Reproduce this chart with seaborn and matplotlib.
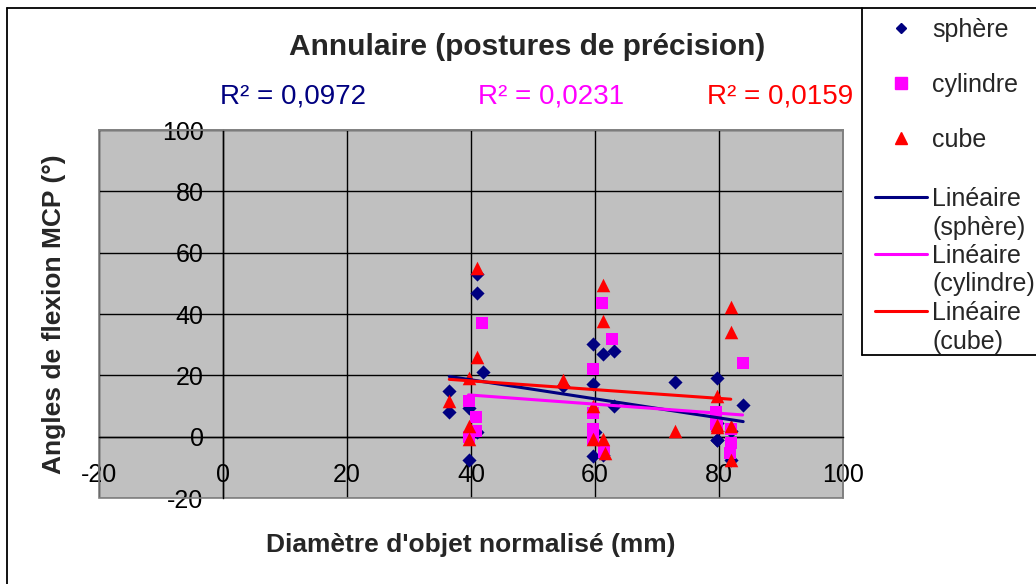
import matplotlib
matplotlib.use("Agg")
import matplotlib.pyplot as plt
from matplotlib.lines import Line2D
from matplotlib.patches import Rectangle
import seaborn as sns

# Normalised object diameter (mm) and MCP flexion angle (deg), ring finger, precision grasps
sphere_x = [36.5, 36.5, 39.7, 39.7, 40.9, 40.9, 40.9, 42.0, 54.8, 59.7, 59.7, 59.7, 60.0,
            61.3, 61.3, 63.0, 63.0, 72.9, 79.7, 79.7, 79.7, 79.7, 81.9, 81.9, 83.9]
sphere_y = [14.8, 7.9, 9.5, -7.5, 53.0, 47.0, 1.5, 21.0, 16.4, 30.2, 17.1, -6.2, 1.4,
            27.0, -6.0, 28.0, 9.9, 17.7, 19.1, -1.2, 4.5, -1.0, 1.7, -7.5, 10.4]

cylinder_x = [39.6, 39.6, 40.8, 40.8, 41.8, 59.6, 59.6, 59.6, 59.7, 61.2, 61.5, 62.8,
              79.5, 79.5, 79.7, 81.8, 81.9, 82.0, 83.8]
cylinder_y = [11.5, 0.0, 6.4, 1.7, 37.0, 22.0, 7.7, 2.6, -0.8, 43.5, -5.0, 31.8,
              8.2, 4.0, 3.5, -5.3, 2.5, -2.0, 24.0]

cube_x = [36.5, 39.7, 39.7, 39.7, 40.9, 40.9, 54.8, 59.7, 59.7, 61.3, 61.3, 61.3, 61.6,
          72.9, 79.7, 79.7, 79.7, 81.9, 81.9, 81.9, 81.9]
cube_y = [11.5, 19.0, 3.4, -0.6, 55.0, 26.0, 18.6, 10.0, -0.8, 49.5, 37.8, -0.8, -5.3,
          1.7, 13.1, 3.7, 3.0, 42.2, 34.0, 3.4, -7.5]

series_names = ["sphère", "cylindre", "cube"]
trend_names = ["(sphère)", "(cylindre)", "(cube)"]
r2_labels = ["R² = 0,0972", "R² = 0,0231", "R² = 0,0159"]
x_ticks = [-20, 0, 20, 40, 60, 80, 100]
y_ticks = [-20, 0, 20, 40, 60, 80, 100]
x_tick_labels = ["-20", "0", "20", "40", "60", "80", "100"]
y_tick_labels = ["-20", "0", "20", "40", "60", "80", "100"]

NAVY, MAGENTA, RED = "#000080", "#FF00FF", "#FF0000"

sns.set_style("white")
plt.rcParams["font.family"] = ["Liberation Sans", "DejaVu Sans"]
plt.rcParams["axes.unicode_minus"] = False

W, H = 1036, 584
fig = plt.figure(figsize=(W / 100, H / 100), dpi=100)
ax = fig.add_axes([99 / W, 1 - 498 / H, 744 / W, 368 / H])
ax.set_facecolor("#C0C0C0")

# scatter series
sns.scatterplot(x=sphere_x, y=sphere_y, marker="D", s=52, color=NAVY, linewidth=0,
                ax=ax, zorder=3, legend=False)
sns.scatterplot(x=cylinder_x, y=cylinder_y, marker="s", s=72, color=MAGENTA, linewidth=0,
                ax=ax, zorder=3, legend=False)
sns.scatterplot(x=cube_x, y=cube_y, marker="^", s=95, color=RED, linewidth=0,
                ax=ax, zorder=3, legend=False)

# linear trend lines
for xs, ys, c in [(sphere_x, sphere_y, NAVY), (cylinder_x, cylinder_y, MAGENTA),
                  (cube_x, cube_y, RED)]:
    sns.regplot(x=xs, y=ys, scatter=False, ci=None, truncate=True, color=c,
                line_kws={"lw": 2.2, "zorder": 4}, ax=ax)

ax.set_xlim(-20, 100)
ax.set_ylim(-20, 100)
ax.set_xticks(x_ticks)
ax.set_xticklabels(x_tick_labels)
ax.set_yticks(y_ticks)
ax.set_yticklabels(y_tick_labels)

ax.grid(True, color="black", lw=1)
ax.set_axisbelow(True)

# axes cross at the origin; plot area framed in grey
ax.spines["left"].set_position(("data", 0))
ax.spines["bottom"].set_position(("data", 0))
for s in ("left", "bottom"):
    ax.spines[s].set_color("black")
    ax.spines[s].set_linewidth(1)
for s in ("top", "right"):
    ax.spines[s].set_color("#808080")
    ax.spines[s].set_linewidth(1.2)
ax.add_patch(Rectangle((0, 0), 1, 1, transform=ax.transAxes, fill=False,
                       edgecolor="#808080", lw=1.2, zorder=1, clip_on=False))

ax.tick_params(axis="both", direction="out", length=5, width=1, color="black",
               labelsize=18, labelcolor="black")
ax.tick_params(axis="x", pad=14)
ax.tick_params(axis="y", pad=9)

ax.set_xlabel("Diamètre d'objet normalisé (mm)", fontsize=19, fontweight="bold")
ax.xaxis.set_label_coords(0.5, -0.128)
ax.xaxis.label.set_va("center")
ax.set_ylabel("Angles de flexion MCP (°)", fontsize=19, fontweight="bold")
ax.yaxis.set_label_coords(-0.06, 0.5)
ax.yaxis.label.set_va("center")

fig.text(527.5 / W, 1 - 47 / H, "Annulaire (postures de précision)", ha="center",
         va="center", fontsize=21.5, fontweight="bold")
for xpx, txt, c in zip([220, 478, 707], r2_labels, [NAVY, MAGENTA, RED]):
    fig.text(xpx / W, 1 - 97 / H, txt, ha="left", va="center", fontsize=20, color=c)

# legend: markers, then trend lines
marker_handles = [
    Line2D([], [], ls="none", marker="D", ms=5.4, mfc=NAVY, mec=NAVY),
    Line2D([], [], ls="none", marker="s", ms=8.0, mfc=MAGENTA, mec=MAGENTA),
    Line2D([], [], ls="none", marker="^", ms=9.0, mfc=RED, mec=RED),
]
fig.legend(handles=marker_handles, labels=series_names, loc="upper left",
           bbox_to_anchor=(888 / W, 1 - 18 / H), frameon=False, fontsize=18,
           handlelength=1.0, handletextpad=0.76, labelspacing=1.24,
           borderpad=0, borderaxespad=0)

blank = Line2D([], [], color="none")
line_handles, line_labels = [], []
for c, name in zip([NAVY, MAGENTA, RED], trend_names):
    line_handles += [Line2D([], [], color=c, lw=2.2), blank]
    line_labels += ["Linéaire", name]
fig.legend(handles=line_handles, labels=line_labels, loc="upper left",
           bbox_to_anchor=(875 / W, 1 - 187 / H), frameon=False, fontsize=18,
           handlelength=2.08, handletextpad=0.2, labelspacing=0.18,
           borderpad=0, borderaxespad=0)

# chart border and legend box
for xs, ys in [([7, 7], [8, H]), ([7, W], [8, 8]),
               ([862, 862], [8, 355]), ([862, W], [355, 355])]:
    fig.add_artist(Line2D([x / W for x in xs], [1 - y / H for y in ys],
                          transform=fig.transFigure, color="black", lw=1.3))

fig.savefig("out.png", dpi=100)
